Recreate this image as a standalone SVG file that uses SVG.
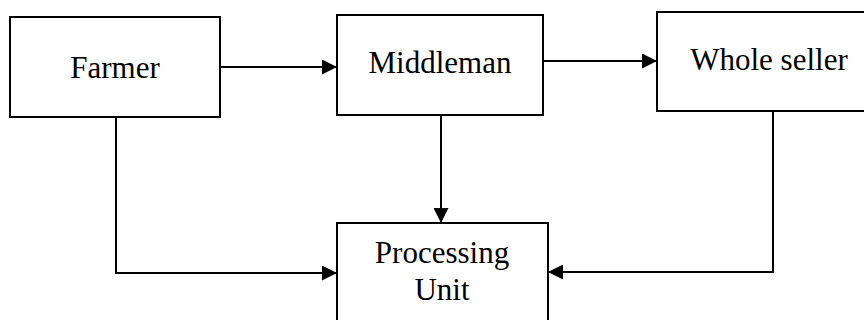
<svg xmlns="http://www.w3.org/2000/svg" width="864" height="320" viewBox="0 0 864 320">
<style>
.box{fill:#fff;stroke:#000;stroke-width:2}
.lbl{font-family:"Liberation Serif","Times New Roman",serif;font-size:31px;fill:#000;text-anchor:middle}
.con{fill:none;stroke:#000;stroke-width:2}
</style>
<defs>
<marker id="arr" viewBox="0 0 10 10" refX="10" refY="5" markerWidth="15" markerHeight="15" markerUnits="userSpaceOnUse" orient="auto">
<path d="M0,0 L10,5 L0,10 z" fill="#000"/>
</marker>
</defs>
<rect width="864" height="320" fill="#fff"/>
<g id="farmer">
<rect class="box" x="10" y="17" width="210" height="100"/>
<text class="lbl" x="115" y="78">Farmer</text>
</g>
<g id="middleman">
<rect class="box" x="337" y="15" width="206" height="100"/>
<text class="lbl" x="440" y="73">Middleman</text>
</g>
<g id="wholeseller">
<rect class="box" x="657" y="12" width="224" height="99"/>
<text class="lbl" x="769" y="70">Whole seller</text>
</g>
<g id="processing">
<rect class="box" x="337" y="223" width="211" height="110"/>
<text class="lbl" x="442" y="263">Processing</text>
<text class="lbl" x="442" y="300">Unit</text>
</g>
<g id="connectors">
<path class="con" d="M220,67 L337,67" marker-end="url(#arr)"/>
<path class="con" d="M543,61 L657,61" marker-end="url(#arr)"/>
<path class="con" d="M441,115 L441,223" marker-end="url(#arr)"/>
<path class="con" d="M116,117 L116,273 L337,273" marker-end="url(#arr)"/>
<path class="con" d="M773,111 L773,272 L548,272" marker-end="url(#arr)"/>
</g>
</svg>
